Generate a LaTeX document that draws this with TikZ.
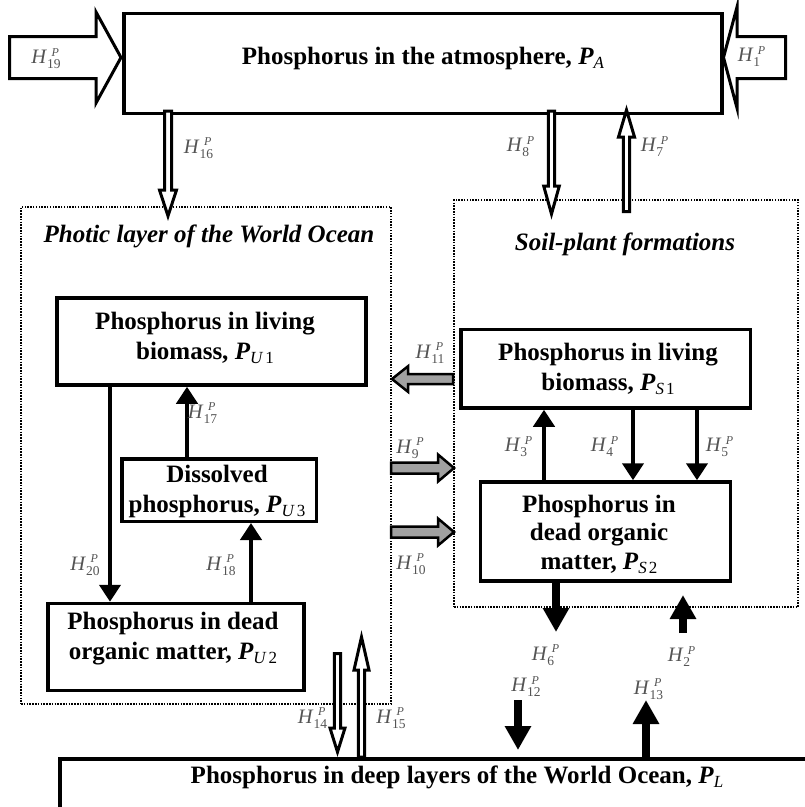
\documentclass[tikz,border=0pt]{standalone}
\usepackage{fontspec}
\setmainfont{Liberation Serif}
\usetikzlibrary{arrows.meta}

\definecolor{labgray}{gray}{0.33}
\definecolor{arrowgray}{gray}{0.63}

% flux label H^P_n
\newcommand\Hlab[1]{\textit{H}\rlap{\kern4.5pt\raisebox{7.5pt}{\fontsize{12}{12}\selectfont\textit{P}}}\raisebox{-5pt}{\fontsize{13.5}{13.5}\selectfont #1}}
% pool symbol P with a subscript
\newcommand\Pool[1]{\textit{P}\raisebox{-4pt}{\fontsize{17}{17}\selectfont\mdseries #1}}

\begin{document}
\begin{tikzpicture}[x=1pt,y=-1pt,
  box/.style={draw, line width=3.5pt, inner sep=0pt},
  zone/.style={draw, line width=1.9pt, dash pattern=on 1.5pt off 1.3pt, inner sep=0pt},
  txt/.style={font=\fontsize{25}{30}\selectfont\bfseries, align=center, inner sep=0pt},
  ttl/.style={font=\fontsize{25}{30}\selectfont\bfseries\itshape, inner sep=0pt},
  lab/.style={font=\fontsize{20.5}{22}\selectfont, text=labgray, inner sep=0pt},
  flow/.style={line width=4.5pt, -{Triangle[length=17pt,width=21pt]}},
  bigflow/.style={line width=7.5pt, -{Triangle[length=24pt,width=25pt]}},
  hollow/.style={draw, fill=white, line width=3pt, line join=miter},
  greyarrow/.style={draw, fill=arrowgray, line width=2.5pt, line join=miter}]

\useasboundingbox (0,0) rectangle (805,807);
\clip (0,0) rectangle (805,807);

% regions
\node[zone, minimum width=370, minimum height=497] (photic) at (206,455.5) {};
\node[zone, minimum width=344, minimum height=407] (soil) at (626,403.5) {};
\node[ttl] (photicttl) at (209,236) {Photic layer of the World Ocean};
\node[ttl] (soilttl) at (625,244) {Soil-plant formations};

% pools
\node[box, minimum width=598, minimum height=100] (atm) at (423,63.5) {};
\node[txt] (atmt) at (423,58) {Phosphorus in the atmosphere, \Pool{\textit{A}}};

\node[box, minimum width=309, minimum height=87] (pu1) at (211.5,341.5) {};
\node[txt] (pu1t) at (205,338) {Phosphorus in living\\biomass, \Pool{\textit{U}\kern2pt1}};

\node[box, minimum width=194.5, minimum height=62.5] (pu3) at (219,490) {};
\node[txt] (pu3t) at (217,491) {Dissolved\\phosphorus, \Pool{\textit{U}\kern2pt3}};

\node[box, minimum width=256, minimum height=87] (pu2) at (176,647) {};
\node[txt] (pu2t) at (173,639) {Phosphorus in dead\\organic matter, \Pool{\textit{U}\kern2pt2}};

\node[box, minimum width=289.5, minimum height=78.5] (ps1) at (605.75,368.75) {};
\node[txt] (ps1t) at (608,369) {Phosphorus in living\\biomass, \Pool{\textit{S}\kern2pt1}};

\node[box, minimum width=250, minimum height=99] (ps2) at (605.5,531.5) {};
\node[txt, font=\fontsize{25}{28.5}\selectfont\bfseries] (ps2t) at (599,534) {Phosphorus in\\dead organic\\matter, \Pool{\textit{S}\kern2pt2}};

\node[box, minimum width=900, minimum height=120, anchor=north west] (deep) at (58,757) {};
\node[txt] (deept) at (457,777) {Phosphorus in deep layers of the World Ocean, \Pool{\textit{L}}};

% inputs to the atmosphere
\draw[hollow] (9.5,36.5) -- (96,36.5) -- (96,12) -- (121,57.5) -- (96,103) -- (96,78.5) -- (9.5,78.5) -- cycle;
\draw[hollow] (785.5,36.5) -- (737,36.5) -- (737,7) -- (723.5,57.5) -- (737,108) -- (737,78.5) -- (785.5,78.5) -- cycle;

% exchanges with the atmosphere
\draw[hollow] (164.5,111) -- (164.5,190) -- (159.5,190) -- (168,216) -- (176.5,190) -- (171.5,190) -- (171.5,111) -- cycle;
\draw[hollow] (548.3,111) -- (548.3,186) -- (543.7,186) -- (551.5,214) -- (559.3,186) -- (554.7,186) -- (554.7,111) -- cycle;
\draw[hollow] (623.3,211.5) -- (623.3,137) -- (618.5,137) -- (626.5,110) -- (634.5,137) -- (629.7,137) -- (629.7,211.5) -- cycle;

% exchanges with the deep ocean
\draw[hollow] (334.3,653.5) -- (334.3,728) -- (330,728) -- (337.5,752) -- (345,728) -- (340.7,728) -- (340.7,653.5) -- cycle;
\draw[hollow] (358.3,757) -- (358.3,670) -- (354,670) -- (361.5,637) -- (369,670) -- (364.7,670) -- (364.7,757) -- cycle;

% land-ocean transfers
\draw[greyarrow] (453,374) -- (408,374) -- (408,366.25) -- (392,379) -- (408,391.75) -- (408,384) -- (453,384) -- cycle;
\draw[greyarrow] (391,462.5) -- (438,462.5) -- (438,454.5) -- (454,468) -- (438,481.5) -- (438,473.5) -- (391,473.5) -- cycle;
\draw[greyarrow] (391,526.5) -- (438,526.5) -- (438,518.5) -- (454,532) -- (438,545.5) -- (438,537.5) -- (391,537.5) -- cycle;

% ocean internal fluxes
\draw[flow] (110,0 |- pu1.south) -- (110,0 |- pu2.north);
\draw[flow] (187,0 |- pu3.north) -- (187,0 |- pu1.south);
\draw[flow] (251,0 |- pu2.north) -- (251,0 |- pu3.south);

% land internal fluxes
\draw[flow] (544,0 |- ps2.north) -- (544,0 |- ps1.south);
\draw[flow] (633,0 |- ps1.south) -- (633,0 |- ps2.north);
\draw[flow] (697,0 |- ps1.south) -- (697,0 |- ps2.north);

% soil - deep ocean fluxes
\coordinate (h6end) at (556,632);
\coordinate (h2start) at (683,633);
\coordinate (h2end) at (683,595);
\coordinate (h12start) at (518,700);
\coordinate (h12end) at (518,750);
\coordinate (h13end) at (646,700);
\draw[bigflow] (556,0 |- ps2.south) -- (h6end);
\draw[bigflow] (h2start) -- (h2end);
\draw[bigflow] (h12start) -- (h12end);
\draw[bigflow] (646,0 |- deep.north) -- (h13end);

% flux labels
\node[lab] (l19) at (46,58.5) {\Hlab{19}};
\node[lab] (l1) at (749,56.5) {\Hlab{1}};
\node[lab] (l16) at (198.5,148) {\Hlab{16}};
\node[lab] (l8) at (518,146.5) {\Hlab{8}};
\node[lab] (l7) at (652,146.5) {\Hlab{7}};
\node[lab] (l17) at (202.5,413) {\Hlab{17}};
\node[lab] (l20) at (85,565) {\Hlab{20}};
\node[lab] (l18) at (221,565) {\Hlab{18}};
\node[lab] (l11) at (430,353) {\Hlab{11}};
\node[lab] (l9) at (407.5,448) {\Hlab{9}};
\node[lab] (l10) at (411,564) {\Hlab{10}};
\node[lab] (l3) at (516,446.5) {\Hlab{3}};
\node[lab] (l4) at (602,446.5) {\Hlab{4}};
\node[lab] (l5) at (717,446.5) {\Hlab{5}};
\node[lab] (l6) at (543,655) {\Hlab{6}};
\node[lab] (l2) at (679,656.5) {\Hlab{2}};
\node[lab] (l12) at (526,686.5) {\Hlab{12}};
\node[lab] (l13) at (648.5,689) {\Hlab{13}};
\node[lab] (l14) at (312.5,718) {\Hlab{14}};
\node[lab] (l15) at (391,718) {\Hlab{15}};

\end{tikzpicture}
\end{document}
